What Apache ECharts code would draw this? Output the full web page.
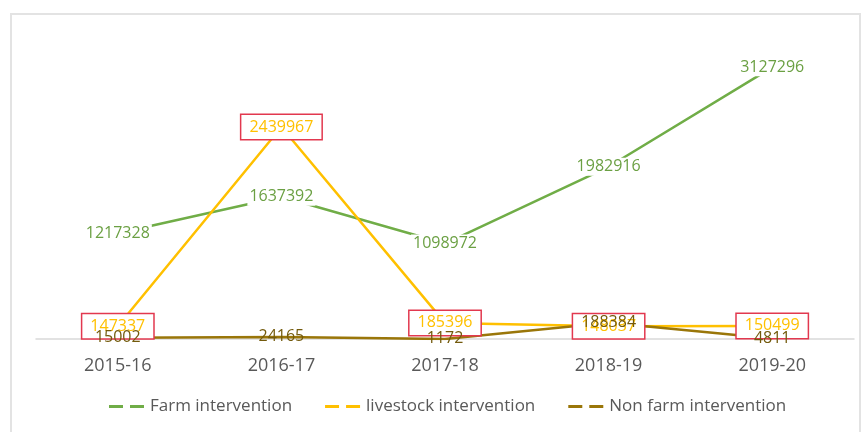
<!DOCTYPE html>
<html>
<head>
<meta charset="utf-8">
<script src="https://cdn.jsdelivr.net/npm/echarts@6/dist/echarts.min.js"></script>
<style>
  html, body { margin: 0; padding: 0; background: #fff; }
  #frame {
    position: absolute; left: 10px; top: 13px; width: 851px; height: 430px;
    border: 2px solid #e3e3e3; box-sizing: border-box;
  }
  #chart { position: absolute; left: 0; top: 0; width: 864px; height: 432px; }
</style>
</head>
<body>
<div id="frame"></div>
<div id="chart"></div>
<script>
const years = ['2015-16', '2016-17', '2017-18', '2018-19', '2019-20']
const farm = [1217328, 1637392, 1098972, 1982916, 3127296]
const livestock = [147337, 2439967, 185396, 148037, 150499]
const nonFarm = [15002, 24165, 1172, 188384, 4811]

const FONT = '"Open Sans", "Liberation Sans", sans-serif'
const GREEN = '#70ad47'
const GOLD = '#ffc000'
const OLIVE = '#9a7609'
// two short dashes, like the Excel legend key
const DASH_ICON = 'path://M0 0H14V3H0Z M21 0H35V3H21Z'

const chart = echarts.init(document.getElementById('chart'))

chart.setOption({
  backgroundColor: 'transparent',
  animation: false,
  textStyle: { fontFamily: FONT },
  grid: { left: 36, right: 10, top: 35, bottom: 93 },
  legend: {
    bottom: 12,
    left: 104,
    itemGap: 33,
    itemWidth: 37,
    itemHeight: 3,
    icon: DASH_ICON,
    textStyle: { color: '#595959', fontSize: 17, fontFamily: FONT },
    data: ['Farm intervention', 'livestock intervention', 'Non farm intervention']
  },
  xAxis: {
    type: 'category',
    data: years,
    axisTick: { show: false },
    axisLine: { lineStyle: { color: '#d9d9d9', width: 1.5 } },
    axisLabel: { color: '#595959', fontSize: 18, margin: 18, fontFamily: FONT }
  },
  yAxis: {
    type: 'value',
    min: 0,
    max: 3500000,
    show: false,
    splitLine: { show: false }
  },
  series: [
    {
      name: 'Farm intervention',
      type: 'line',
      symbol: 'circle',
      symbolSize: 0,
      showSymbol: true,
      data: farm,
      lineStyle: { color: GREEN, width: 2.5 },
      itemStyle: { color: GREEN },
      label: {
        show: true,
        position: 'inside',
        color: '#6ba043',
        fontSize: 16,
        fontFamily: FONT,
        backgroundColor: '#fff',
        padding: [1, 2]
      }
    },
    {
      name: 'livestock intervention',
      type: 'line',
      symbol: 'circle',
      symbolSize: 0,
      showSymbol: true,
      data: livestock,
      lineStyle: { color: GOLD, width: 2.5 },
      itemStyle: { color: GOLD },
      label: {
        show: true,
        position: 'inside',
        color: GOLD,
        fontSize: 16,
        fontFamily: FONT,
        backgroundColor: '#fff',
        borderColor: '#e2384f',
        borderWidth: 1.5,
        padding: [4, 8]
      }
    },
    {
      name: 'Non farm intervention',
      type: 'line',
      symbol: 'circle',
      symbolSize: 0,
      showSymbol: true,
      data: nonFarm,
      lineStyle: { color: OLIVE, width: 2.5 },
      itemStyle: { color: OLIVE },
      label: {
        show: true,
        position: 'inside',
        color: '#735a0c',
        fontSize: 16,
        fontFamily: FONT
      }
    }
  ]
})
</script>
</body>
</html>
